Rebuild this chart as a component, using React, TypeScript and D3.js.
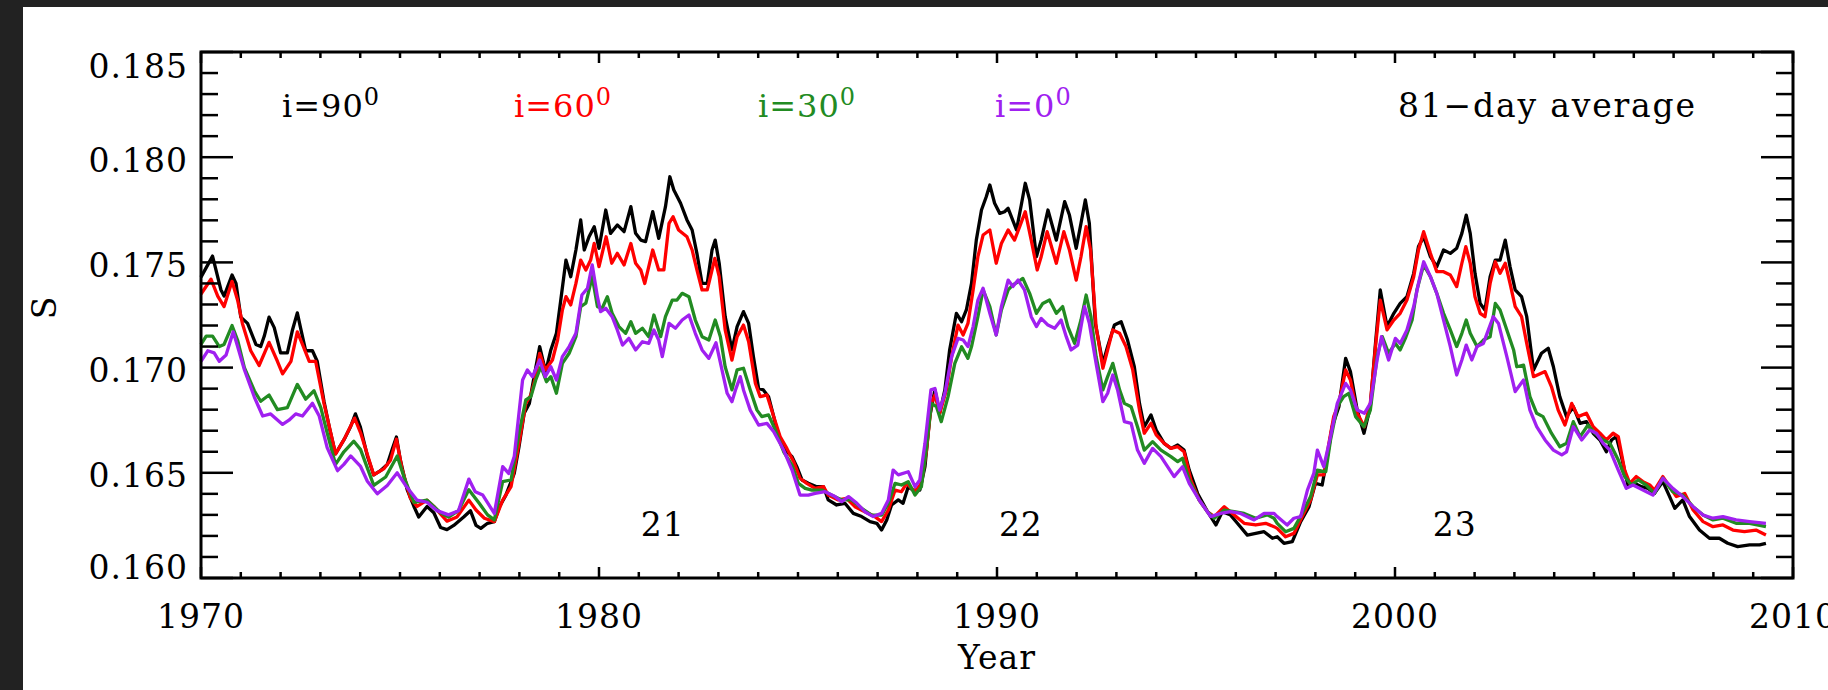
import React from 'react';
import * as d3 from 'd3';

// S-index, 81-day average as [year, S]
const incl90: [number, number][] = [
  [1970.0, 0.1743], [1970.29, 0.1753], [1970.5, 0.1737], [1970.58, 0.1734], [1970.78, 0.1744], [1970.88, 0.174],
  [1971.0, 0.1724], [1971.17, 0.1721], [1971.38, 0.1711], [1971.5, 0.171], [1971.59, 0.1715], [1971.71, 0.1724],
  [1971.84, 0.1719], [1972.0, 0.1707], [1972.17, 0.1707], [1972.3, 0.1718], [1972.42, 0.1726], [1972.5, 0.1719],
  [1972.63, 0.1708], [1972.8, 0.1708], [1972.92, 0.1703], [1973.09, 0.1684], [1973.22, 0.1672], [1973.38, 0.1659],
  [1973.6, 0.1666], [1973.76, 0.1672], [1973.88, 0.1678], [1974.0, 0.1672], [1974.18, 0.1658], [1974.34, 0.1649],
  [1974.51, 0.1651], [1974.68, 0.1654], [1974.8, 0.1661], [1974.91, 0.1667], [1975.01, 0.1656], [1975.18, 0.1642],
  [1975.35, 0.1634], [1975.47, 0.1629], [1975.68, 0.1634], [1975.85, 0.1631], [1976.02, 0.1624], [1976.18, 0.1623],
  [1976.35, 0.1625], [1976.6, 0.1629], [1976.77, 0.1632], [1976.91, 0.1625], [1977.03, 0.16236], [1977.2, 0.1626],
  [1977.37, 0.16268], [1977.5, 0.16339], [1977.66, 0.16394], [1977.87, 0.16497], [1977.99, 0.16624], [1978.12, 0.16783],
  [1978.25, 0.1683], [1978.37, 0.16957], [1978.51, 0.171], [1978.66, 0.1698], [1978.79, 0.17084], [1978.93, 0.17163],
  [1979.04, 0.17321], [1979.17, 0.17511], [1979.29, 0.17432], [1979.42, 0.17559], [1979.54, 0.17702], [1979.63, 0.17559],
  [1979.75, 0.17622], [1979.88, 0.1767], [1980.0, 0.17567], [1980.17, 0.17749], [1980.29, 0.17638], [1980.46, 0.17678],
  [1980.63, 0.17646], [1980.8, 0.17765], [1980.92, 0.17638], [1981.05, 0.17606], [1981.17, 0.17599], [1981.35, 0.17741],
  [1981.5, 0.17614], [1981.67, 0.17765], [1981.78, 0.17907], [1981.88, 0.17844], [1982.05, 0.17781], [1982.21, 0.17702],
  [1982.34, 0.17654], [1982.46, 0.17543], [1982.59, 0.174], [1982.72, 0.174], [1982.84, 0.17559], [1982.92, 0.17606],
  [1983.02, 0.17496], [1983.17, 0.17242], [1983.34, 0.17084], [1983.47, 0.17195], [1983.63, 0.17266], [1983.76, 0.1721],
  [1983.88, 0.17052], [1984.01, 0.16901], [1984.13, 0.16894], [1984.26, 0.16862], [1984.39, 0.16767], [1984.51, 0.16672],
  [1984.68, 0.16608], [1984.85, 0.16577], [1984.97, 0.16529], [1985.1, 0.16466], [1985.26, 0.1645], [1985.47, 0.16434],
  [1985.64, 0.16434], [1985.76, 0.16371], [1985.97, 0.16347], [1986.18, 0.16355], [1986.39, 0.16307], [1986.6, 0.16292],
  [1986.81, 0.16268], [1986.98, 0.1626], [1987.1, 0.16228], [1987.23, 0.16276], [1987.35, 0.16347], [1987.52, 0.16371],
  [1987.64, 0.16355], [1987.77, 0.16434], [1987.89, 0.16418], [1988.06, 0.16418], [1988.19, 0.16529], [1988.31, 0.16767],
  [1988.44, 0.16894], [1988.56, 0.16783], [1988.69, 0.16894], [1988.81, 0.17084], [1988.98, 0.17258], [1989.11, 0.17218],
  [1989.23, 0.17274], [1989.36, 0.174], [1989.48, 0.17606], [1989.61, 0.17749], [1989.73, 0.17812], [1989.82, 0.17868],
  [1989.94, 0.17781], [1990.07, 0.17733], [1990.19, 0.17741], [1990.28, 0.17757], [1990.49, 0.17654], [1990.61, 0.17773],
  [1990.71, 0.17876], [1990.82, 0.17797], [1990.99, 0.17527], [1991.11, 0.17606], [1991.28, 0.17749], [1991.49, 0.17606],
  [1991.7, 0.17789], [1991.82, 0.17725], [1991.99, 0.17567], [1992.11, 0.17686], [1992.22, 0.17797], [1992.32, 0.17686],
  [1992.47, 0.1721], [1992.66, 0.1702], [1992.78, 0.171], [1992.95, 0.17202], [1993.12, 0.17218], [1993.28, 0.17131],
  [1993.45, 0.17004], [1993.58, 0.1683], [1993.7, 0.16719], [1993.87, 0.16775], [1994.0, 0.16703], [1994.2, 0.1664],
  [1994.37, 0.16616], [1994.54, 0.16632], [1994.7, 0.16608], [1994.83, 0.16513], [1995.04, 0.16402], [1995.29, 0.16315],
  [1995.5, 0.16252], [1995.66, 0.16315], [1995.87, 0.16299], [1996.04, 0.1626], [1996.29, 0.16204], [1996.5, 0.16212],
  [1996.71, 0.1622], [1996.92, 0.16189], [1997.04, 0.16196], [1997.21, 0.16165], [1997.42, 0.16173], [1997.63, 0.16268],
  [1997.84, 0.16339], [1998.0, 0.1645], [1998.17, 0.16442], [1998.3, 0.16577], [1998.42, 0.16719], [1998.59, 0.16814],
  [1998.76, 0.17044], [1998.88, 0.16981], [1999.05, 0.16798], [1999.22, 0.16688], [1999.38, 0.16814], [1999.51, 0.17115],
  [1999.63, 0.17369], [1999.8, 0.17195], [1999.97, 0.17258], [2000.13, 0.17305], [2000.3, 0.17337], [2000.47, 0.17448],
  [2000.59, 0.17575], [2000.72, 0.17622], [2000.89, 0.17527], [2001.05, 0.1748], [2001.22, 0.17559], [2001.39, 0.17543],
  [2001.55, 0.17567], [2001.68, 0.17638], [2001.79, 0.17725], [2001.89, 0.17638], [2002.01, 0.17448], [2002.14, 0.17305],
  [2002.26, 0.17274], [2002.39, 0.17432], [2002.52, 0.17511], [2002.64, 0.17511], [2002.77, 0.17606], [2002.89, 0.1748],
  [2003.02, 0.17369], [2003.18, 0.17337], [2003.31, 0.17242], [2003.48, 0.16989], [2003.68, 0.17068], [2003.85, 0.17092],
  [2003.98, 0.17004], [2004.14, 0.16862], [2004.31, 0.16767], [2004.48, 0.16814], [2004.65, 0.16735], [2004.81, 0.16743],
  [2004.98, 0.16688], [2005.15, 0.16656], [2005.31, 0.166], [2005.44, 0.16656], [2005.56, 0.16672], [2005.69, 0.16577],
  [2005.86, 0.16434], [2006.02, 0.1645], [2006.19, 0.16434], [2006.36, 0.16426], [2006.52, 0.16402], [2006.73, 0.16458],
  [2006.9, 0.16387], [2007.03, 0.16331], [2007.23, 0.16371], [2007.4, 0.16292], [2007.65, 0.16228], [2007.9, 0.16189],
  [2008.15, 0.16189], [2008.36, 0.16165], [2008.61, 0.16149], [2008.91, 0.16157], [2009.16, 0.16157], [2009.32, 0.16165],
];

const incl60: [number, number][] = [
  [1970.0, 0.1735], [1970.25, 0.1742], [1970.42, 0.1734], [1970.58, 0.1729], [1970.78, 0.1741], [1970.92, 0.1732],
  [1971.04, 0.1721], [1971.25, 0.1708], [1971.46, 0.1701], [1971.71, 0.1712], [1971.92, 0.1703], [1972.05, 0.1697],
  [1972.26, 0.1703], [1972.42, 0.1717], [1972.55, 0.1711], [1972.72, 0.1703], [1972.88, 0.1703], [1973.09, 0.1683],
  [1973.38, 0.1659], [1973.6, 0.1666], [1973.86, 0.1676], [1974.01, 0.1669], [1974.34, 0.1649], [1974.6, 0.1652],
  [1974.76, 0.1656], [1974.91, 0.1666], [1975.05, 0.1652], [1975.26, 0.1638], [1975.43, 0.1634], [1975.68, 0.1637],
  [1975.85, 0.1634], [1976.18, 0.1627], [1976.43, 0.1629], [1976.73, 0.1637], [1976.91, 0.16323], [1977.12, 0.16284],
  [1977.37, 0.16268], [1977.58, 0.1637], [1977.79, 0.16434], [1977.99, 0.1664], [1978.16, 0.1683], [1978.29, 0.1687],
  [1978.41, 0.16957], [1978.51, 0.17068], [1978.65, 0.16989], [1978.83, 0.17036], [1978.96, 0.17131], [1979.08, 0.17274],
  [1979.17, 0.17337], [1979.29, 0.17298], [1979.42, 0.174], [1979.54, 0.17511], [1979.67, 0.17464], [1979.79, 0.17511],
  [1979.88, 0.1759], [1980.0, 0.1748], [1980.18, 0.17622], [1980.32, 0.17496], [1980.46, 0.17543], [1980.63, 0.17488],
  [1980.8, 0.1759], [1980.92, 0.17496], [1981.05, 0.17464], [1981.15, 0.174], [1981.35, 0.17559], [1981.5, 0.17464],
  [1981.63, 0.17464], [1981.76, 0.17686], [1981.86, 0.17717], [1982.0, 0.17654], [1982.21, 0.17622], [1982.34, 0.17559],
  [1982.46, 0.17464], [1982.59, 0.17369], [1982.72, 0.17369], [1982.91, 0.17519], [1983.02, 0.17432], [1983.17, 0.17179],
  [1983.34, 0.17036], [1983.47, 0.17147], [1983.63, 0.17202], [1983.76, 0.17123], [1983.93, 0.16925], [1984.05, 0.16862],
  [1984.22, 0.1687], [1984.39, 0.16767], [1984.55, 0.16672], [1984.72, 0.16616], [1984.89, 0.16553], [1985.05, 0.16474],
  [1985.22, 0.1645], [1985.43, 0.16426], [1985.64, 0.16434], [1985.76, 0.16394], [1986.01, 0.16371], [1986.22, 0.16379],
  [1986.43, 0.16339], [1986.68, 0.16315], [1986.93, 0.16292], [1987.1, 0.16268], [1987.27, 0.16323], [1987.44, 0.16418],
  [1987.6, 0.1641], [1987.73, 0.1645], [1987.94, 0.1641], [1988.1, 0.1645], [1988.23, 0.16608], [1988.35, 0.1683],
  [1988.44, 0.1687], [1988.56, 0.16783], [1988.73, 0.16894], [1988.86, 0.17052], [1989.02, 0.17202], [1989.15, 0.17155],
  [1989.27, 0.1721], [1989.4, 0.17369], [1989.52, 0.17527], [1989.65, 0.1763], [1989.82, 0.17654], [1989.98, 0.17496],
  [1990.11, 0.1759], [1990.28, 0.17654], [1990.44, 0.17606], [1990.57, 0.1767], [1990.71, 0.17741], [1990.86, 0.17606],
  [1991.01, 0.17464], [1991.11, 0.17527], [1991.26, 0.17646], [1991.49, 0.17496], [1991.68, 0.17646], [1991.82, 0.17559],
  [1991.99, 0.17416], [1992.11, 0.17527], [1992.24, 0.1767], [1992.35, 0.17559], [1992.49, 0.17195], [1992.66, 0.16997],
  [1992.78, 0.17084], [1992.91, 0.17179], [1993.08, 0.17163], [1993.24, 0.171], [1993.41, 0.16989], [1993.58, 0.16798],
  [1993.7, 0.16688], [1993.87, 0.16735], [1994.0, 0.1668], [1994.2, 0.1664], [1994.37, 0.16616], [1994.54, 0.16624],
  [1994.7, 0.166], [1994.87, 0.16466], [1995.08, 0.16371], [1995.29, 0.16315], [1995.46, 0.16292], [1995.71, 0.16339],
  [1995.96, 0.16299], [1996.21, 0.1626], [1996.5, 0.16252], [1996.75, 0.1626], [1996.96, 0.16244], [1997.04, 0.16236],
  [1997.25, 0.16196], [1997.46, 0.16212], [1997.67, 0.16292], [1997.88, 0.16371], [1998.05, 0.1649], [1998.21, 0.1649],
  [1998.34, 0.1664], [1998.46, 0.16767], [1998.59, 0.1683], [1998.76, 0.16989], [1998.88, 0.16941], [1999.05, 0.16783],
  [1999.23, 0.16719], [1999.38, 0.1683], [1999.51, 0.17099], [1999.63, 0.17321], [1999.8, 0.17179], [1999.97, 0.17226],
  [2000.13, 0.17258], [2000.3, 0.17321], [2000.47, 0.17432], [2000.59, 0.17559], [2000.72, 0.17646], [2000.89, 0.17543],
  [2001.05, 0.17456], [2001.22, 0.17456], [2001.39, 0.1744], [2001.55, 0.17385], [2001.68, 0.17496], [2001.78, 0.17575],
  [2001.89, 0.17496], [2002.01, 0.17337], [2002.14, 0.17258], [2002.26, 0.17242], [2002.39, 0.174], [2002.52, 0.17503],
  [2002.64, 0.17448], [2002.77, 0.17496], [2002.89, 0.174], [2003.02, 0.1729], [2003.18, 0.17242], [2003.31, 0.17115],
  [2003.48, 0.16957], [2003.77, 0.16981], [2003.93, 0.1691], [2004.1, 0.16798], [2004.27, 0.16727], [2004.44, 0.1683],
  [2004.6, 0.16767], [2004.81, 0.16783], [2004.98, 0.16719], [2005.15, 0.16688], [2005.31, 0.16656], [2005.48, 0.16688],
  [2005.61, 0.16672], [2005.77, 0.16513], [2005.9, 0.1645], [2006.06, 0.16482], [2006.23, 0.16458], [2006.4, 0.16442],
  [2006.52, 0.16418], [2006.73, 0.16482], [2006.9, 0.16434], [2007.07, 0.16387], [2007.28, 0.16402], [2007.49, 0.16323],
  [2007.74, 0.16268], [2007.99, 0.16244], [2008.24, 0.16252], [2008.49, 0.16228], [2008.78, 0.1622], [2009.07, 0.16228],
  [2009.32, 0.16204],
];

const incl30: [number, number][] = [
  [1970.0, 0.1711], [1970.13, 0.1715], [1970.29, 0.1715], [1970.46, 0.171], [1970.58, 0.1711], [1970.78, 0.172],
  [1970.92, 0.1713], [1971.09, 0.17], [1971.34, 0.1689], [1971.5, 0.1684], [1971.71, 0.1687], [1971.92, 0.168],
  [1972.17, 0.1681], [1972.42, 0.1692], [1972.63, 0.1685], [1972.84, 0.1689], [1973.01, 0.1681], [1973.17, 0.1669],
  [1973.38, 0.1654], [1973.59, 0.166], [1973.84, 0.1665], [1974.01, 0.1661], [1974.34, 0.1644], [1974.64, 0.1648],
  [1974.93, 0.1658], [1975.1, 0.1648], [1975.35, 0.1636], [1975.68, 0.1637], [1976.02, 0.1631], [1976.22, 0.1629],
  [1976.47, 0.1632], [1976.73, 0.1642], [1976.99, 0.16355], [1977.2, 0.163], [1977.37, 0.16276], [1977.58, 0.16458],
  [1977.79, 0.16466], [1977.99, 0.16688], [1978.16, 0.16846], [1978.29, 0.16862], [1978.41, 0.16941], [1978.54, 0.17004],
  [1978.68, 0.16933], [1978.79, 0.16957], [1978.93, 0.16878], [1979.08, 0.1702], [1979.25, 0.17068], [1979.42, 0.17147],
  [1979.54, 0.1729], [1979.67, 0.17306], [1979.83, 0.17432], [1979.96, 0.1729], [1980.08, 0.17282], [1980.21, 0.17337],
  [1980.33, 0.17258], [1980.5, 0.17195], [1980.67, 0.17163], [1980.8, 0.17218], [1980.92, 0.17163], [1981.09, 0.17187],
  [1981.25, 0.17147], [1981.38, 0.1725], [1981.55, 0.17147], [1981.67, 0.17242], [1981.84, 0.17321], [1981.96, 0.17321],
  [1982.09, 0.17353], [1982.26, 0.17337], [1982.42, 0.17226], [1982.59, 0.17147], [1982.76, 0.17131], [1982.92, 0.17226],
  [1983.05, 0.17147], [1983.17, 0.17004], [1983.34, 0.16894], [1983.47, 0.16989], [1983.63, 0.16997], [1983.8, 0.16894],
  [1983.97, 0.16798], [1984.09, 0.16767], [1984.26, 0.16775], [1984.43, 0.16703], [1984.64, 0.166], [1984.85, 0.16537],
  [1985.01, 0.1645], [1985.18, 0.16426], [1985.35, 0.16418], [1985.6, 0.16418], [1985.85, 0.16394], [1986.1, 0.16371],
  [1986.35, 0.16371], [1986.6, 0.16331], [1986.85, 0.16299], [1987.1, 0.16299], [1987.27, 0.16355], [1987.44, 0.1645],
  [1987.6, 0.16442], [1987.77, 0.16458], [1987.94, 0.16394], [1988.1, 0.16434], [1988.23, 0.16624], [1988.35, 0.1683],
  [1988.48, 0.16814], [1988.6, 0.16743], [1988.77, 0.16862], [1988.94, 0.1702], [1989.11, 0.17099], [1989.27, 0.17044],
  [1989.36, 0.171], [1989.52, 0.17242], [1989.65, 0.17369], [1989.82, 0.1729], [1989.98, 0.17155], [1990.11, 0.17274],
  [1990.28, 0.17369], [1990.4, 0.17393], [1990.53, 0.17408], [1990.65, 0.17424], [1990.82, 0.17353], [1990.99, 0.17258],
  [1991.15, 0.17305], [1991.32, 0.17321], [1991.49, 0.17258], [1991.65, 0.1729], [1991.78, 0.17195], [1991.95, 0.17115],
  [1992.11, 0.17226], [1992.24, 0.17345], [1992.36, 0.17242], [1992.49, 0.17052], [1992.66, 0.16894], [1992.78, 0.16957],
  [1992.91, 0.1702], [1993.08, 0.16894], [1993.2, 0.1683], [1993.37, 0.16814], [1993.53, 0.16719], [1993.7, 0.16608],
  [1993.91, 0.16648], [1994.12, 0.16608], [1994.37, 0.16577], [1994.54, 0.16553], [1994.66, 0.16569], [1994.83, 0.16466],
  [1995.08, 0.16371], [1995.29, 0.16315], [1995.46, 0.16284], [1995.71, 0.16323], [1995.96, 0.16315], [1996.21, 0.16307],
  [1996.5, 0.16284], [1996.79, 0.163], [1996.96, 0.16284], [1997.04, 0.1626], [1997.25, 0.1622], [1997.46, 0.16236],
  [1997.67, 0.16307], [1997.88, 0.16387], [1998.05, 0.16513], [1998.26, 0.16505], [1998.38, 0.16656], [1998.55, 0.16814],
  [1998.71, 0.16862], [1998.84, 0.16878], [1999.01, 0.16767], [1999.22, 0.16719], [1999.38, 0.16798], [1999.55, 0.17052],
  [1999.68, 0.17147], [1999.84, 0.17068], [2000.01, 0.17115], [2000.13, 0.17084], [2000.26, 0.17139], [2000.43, 0.17226],
  [2000.55, 0.17369], [2000.72, 0.17488], [2000.89, 0.17432], [2001.05, 0.17353], [2001.22, 0.17258], [2001.39, 0.17179],
  [2001.55, 0.171], [2001.68, 0.17163], [2001.79, 0.17226], [2001.89, 0.17163], [2002.06, 0.171], [2002.22, 0.17131],
  [2002.39, 0.17147], [2002.52, 0.17305], [2002.64, 0.17274], [2002.81, 0.17179], [2002.98, 0.17084], [2003.06, 0.17004],
  [2003.23, 0.17012], [2003.39, 0.16862], [2003.56, 0.16783], [2003.72, 0.16767], [2003.93, 0.16688], [2004.14, 0.16624],
  [2004.31, 0.1664], [2004.48, 0.16743], [2004.65, 0.16672], [2004.85, 0.16727], [2005.02, 0.16688], [2005.23, 0.16656],
  [2005.4, 0.1664], [2005.61, 0.16561], [2005.77, 0.16482], [2005.94, 0.16442], [2006.11, 0.16466], [2006.31, 0.16442],
  [2006.52, 0.16402], [2006.73, 0.16474], [2006.98, 0.1641], [2007.23, 0.16394], [2007.49, 0.16339], [2007.74, 0.16299],
  [2007.99, 0.16276], [2008.24, 0.16284], [2008.57, 0.1626], [2008.91, 0.1626], [2009.32, 0.16244],
];

const incl0: [number, number][] = [
  [1970.0, 0.1703], [1970.17, 0.1708], [1970.33, 0.1707], [1970.46, 0.1703], [1970.63, 0.1706], [1970.81, 0.1717],
  [1970.92, 0.171], [1971.09, 0.1699], [1971.34, 0.1686], [1971.55, 0.1677], [1971.75, 0.1678], [1972.05, 0.1673],
  [1972.21, 0.1675], [1972.38, 0.1678], [1972.55, 0.1677], [1972.8, 0.1683], [1972.97, 0.1677], [1973.17, 0.1662],
  [1973.43, 0.1651], [1973.59, 0.1654], [1973.76, 0.1658], [1974.01, 0.1653], [1974.18, 0.1646], [1974.43, 0.164],
  [1974.68, 0.1644], [1974.93, 0.165], [1975.14, 0.1644], [1975.43, 0.1637], [1975.68, 0.1636], [1975.93, 0.1632],
  [1976.22, 0.163], [1976.47, 0.1632], [1976.73, 0.1647], [1976.89, 0.1641], [1977.08, 0.16394], [1977.37, 0.16307],
  [1977.58, 0.16529], [1977.73, 0.16497], [1977.87, 0.16577], [1978.08, 0.16941], [1978.2, 0.16989], [1978.33, 0.16957],
  [1978.51, 0.17036], [1978.65, 0.16957], [1978.79, 0.17004], [1978.93, 0.16941], [1979.08, 0.17052], [1979.25, 0.171],
  [1979.42, 0.17163], [1979.57, 0.17345], [1979.71, 0.17377], [1979.83, 0.17488], [1979.96, 0.17337], [1980.04, 0.17266],
  [1980.17, 0.17282], [1980.33, 0.17242], [1980.46, 0.17179], [1980.59, 0.17107], [1980.75, 0.17139], [1980.92, 0.17084],
  [1981.09, 0.17123], [1981.25, 0.17115], [1981.38, 0.17179], [1981.5, 0.17131], [1981.59, 0.17052], [1981.76, 0.1721],
  [1981.92, 0.17187], [1982.09, 0.17226], [1982.26, 0.1725], [1982.42, 0.17163], [1982.59, 0.17084], [1982.76, 0.17044],
  [1982.94, 0.17118], [1983.09, 0.16989], [1983.22, 0.16878], [1983.34, 0.16838], [1983.43, 0.16894], [1983.55, 0.16957],
  [1983.63, 0.16894], [1983.8, 0.16798], [1984.01, 0.16727], [1984.22, 0.16735], [1984.39, 0.16695], [1984.64, 0.16608],
  [1984.85, 0.16513], [1985.05, 0.16394], [1985.26, 0.16394], [1985.43, 0.16402], [1985.68, 0.1641], [1985.93, 0.16387],
  [1986.1, 0.16363], [1986.27, 0.16387], [1986.48, 0.16355], [1986.68, 0.16315], [1986.89, 0.16292], [1987.1, 0.16307],
  [1987.27, 0.16371], [1987.39, 0.16513], [1987.52, 0.1649], [1987.77, 0.16505], [1987.94, 0.16434], [1988.06, 0.16466],
  [1988.19, 0.1664], [1988.34, 0.16894], [1988.44, 0.16901], [1988.56, 0.16798], [1988.69, 0.16878], [1988.86, 0.17052],
  [1989.02, 0.17139], [1989.15, 0.17131], [1989.27, 0.171], [1989.4, 0.17195], [1989.52, 0.17321], [1989.65, 0.17377],
  [1989.82, 0.17258], [1989.98, 0.17155], [1990.11, 0.1729], [1990.28, 0.17416], [1990.4, 0.17385], [1990.53, 0.17416],
  [1990.69, 0.17369], [1990.86, 0.17242], [1990.99, 0.17195], [1991.11, 0.17234], [1991.28, 0.17202], [1991.45, 0.17187],
  [1991.61, 0.17226], [1991.74, 0.17147], [1991.86, 0.17084], [1992.03, 0.17107], [1992.2, 0.1729], [1992.32, 0.1721],
  [1992.49, 0.1702], [1992.66, 0.16838], [1992.78, 0.16878], [1992.91, 0.16965], [1993.03, 0.16894], [1993.2, 0.16743],
  [1993.37, 0.16735], [1993.53, 0.16608], [1993.7, 0.16545], [1993.91, 0.16616], [1994.12, 0.16577], [1994.45, 0.16482],
  [1994.66, 0.16529], [1994.83, 0.1645], [1995.08, 0.16371], [1995.37, 0.16292], [1995.62, 0.16307], [1995.87, 0.16315],
  [1996.12, 0.16307], [1996.46, 0.16276], [1996.71, 0.16307], [1996.96, 0.16307], [1997.04, 0.16292], [1997.29, 0.16252],
  [1997.46, 0.16284], [1997.63, 0.16292], [1997.8, 0.16418], [1997.96, 0.16497], [1998.05, 0.16608], [1998.21, 0.16529],
  [1998.38, 0.16672], [1998.55, 0.1683], [1998.76, 0.16925], [1998.88, 0.16894], [1999.05, 0.16798], [1999.23, 0.16783],
  [1999.38, 0.1683], [1999.55, 0.17036], [1999.66, 0.17147], [1999.84, 0.17036], [2000.01, 0.17139], [2000.13, 0.17115],
  [2000.3, 0.17179], [2000.47, 0.1729], [2000.59, 0.174], [2000.72, 0.17503], [2000.89, 0.17432], [2001.05, 0.17353],
  [2001.22, 0.17226], [2001.39, 0.171], [2001.55, 0.16965], [2001.68, 0.17036], [2001.79, 0.17107], [2001.93, 0.17036],
  [2002.06, 0.171], [2002.22, 0.17115], [2002.47, 0.17242], [2002.6, 0.1721], [2002.81, 0.17052], [2003.02, 0.16886],
  [2003.23, 0.16941], [2003.39, 0.16798], [2003.56, 0.16719], [2003.77, 0.16656], [2003.98, 0.16608], [2004.19, 0.16585],
  [2004.31, 0.166], [2004.48, 0.16719], [2004.69, 0.16656], [2004.89, 0.16703], [2005.06, 0.16688], [2005.23, 0.1664],
  [2005.4, 0.16608], [2005.61, 0.16513], [2005.81, 0.16426], [2005.98, 0.16442], [2006.23, 0.16418], [2006.48, 0.16394],
  [2006.73, 0.16474], [2006.98, 0.16426], [2007.23, 0.16387], [2007.49, 0.16339], [2007.74, 0.16299], [2007.99, 0.16284],
  [2008.24, 0.16292], [2008.57, 0.16276], [2008.91, 0.16268], [2009.32, 0.1626],
];

const series = [
  { name: 'i=90', data: incl90, color: '#000000' },
  { name: 'i=60', data: incl60, color: '#ff0000' },
  { name: 'i=30', data: incl30, color: '#228b22' },
  { name: 'i=0', data: incl0, color: '#a020f0' },
];

const xTicksMajor = [1970, 1980, 1990, 2000, 2010];
const yTicksMajor = [0.160, 0.165, 0.170, 0.175, 0.180, 0.185];
const cycles = [{ label: '21', year: 1981.6 }, { label: '22', year: 1990.6 }, { label: '23', year: 2001.5 }];
const legendX = [282, 514, 758, 995]; // left edge of each legend entry

const W = 1828, H = 690;
const left = 201, right = 1793, top = 52, bottom = 578;
const FONT = '"DejaVu Serif", serif';

const App = () => {
  const x = d3.scaleLinear().domain([1970, 2010]).range([left, right]);
  const y = d3.scaleLinear().domain([0.160, 0.185]).range([bottom, top]);
  const path = d3.line<[number, number]>().x(d => x(d[0])).y(d => y(d[1]));

  const xMinor = d3.range(1970, 2011);
  const yMinor = d3.range(160, 186).map(v => v / 1000);
  const fmt = d3.format('.3f');

  // IDL keeps the end labels inside the box
  const labelY = (v: number) => Math.min(Math.max(y(v) + 3, top + 14), bottom - 11);

  return (
    <svg width={W} height={H} style={{ position: 'absolute', left: 0, top: 0 }} fontFamily={FONT}>
      <rect width={W} height={H} fill="#222222" />
      <rect x={23} y={7} width={W - 23} height={H - 7} fill="#ffffff" />

      {series.map(s => (
        <path key={s.name} d={path(s.data) || ''} fill="none" stroke={s.color} strokeWidth={3.3} strokeLinejoin="round" />
      ))}

      {/* frame */}
      <rect x={left} y={top} width={right - left} height={bottom - top} fill="none" stroke="#000" strokeWidth={3} />

      {/* x ticks, bottom and top */}
      {xMinor.map(t => {
        const len = t % 10 === 0 ? 11 : 6;
        return (
          <g key={'x' + t} stroke="#000" strokeWidth={2.5}>
            <line x1={x(t)} x2={x(t)} y1={bottom} y2={bottom - len} />
            <line x1={x(t)} x2={x(t)} y1={top} y2={top + len} />
          </g>
        );
      })}
      {/* y ticks, left and right */}
      {yMinor.map((t, i) => {
        const len = i % 5 === 0 ? 32 : 17;
        return (
          <g key={'y' + i} stroke="#000" strokeWidth={2.5}>
            <line x1={left} x2={left + len} y1={y(t)} y2={y(t)} />
            <line x1={right} x2={right - len} y1={y(t)} y2={y(t)} />
          </g>
        );
      })}

      {xTicksMajor.map(t => (
        <text key={'xl' + t} x={x(t)} y={628} textAnchor="middle" fontSize={33} letterSpacing={1}>{t}</text>
      ))}
      {yTicksMajor.map(t => (
        <text key={'yl' + t} x={188} y={labelY(t)} textAnchor="end" dominantBaseline="central" fontSize={33} letterSpacing={1}>
          {fmt(t)}
        </text>
      ))}

      <text x={(left + right) / 2} y={669} textAnchor="middle" fontSize={33} letterSpacing={1}>Year</text>
      <text transform={`translate(56, ${(top + bottom) / 2 - 7}) rotate(-90)`} textAnchor="middle" fontSize={33}>S</text>

      {series.map((s, i) => (
        <text key={'lg' + s.name} x={legendX[i]} y={117} fill={s.color} fontSize={32} letterSpacing={1}>
          {s.name}
          <tspan fontSize={24} dy={-12}>0</tspan>
        </text>
      ))}
      <text x={1398} y={117} fontSize={33} textLength={297} lengthAdjust="spacing">81−day average</text>

      {cycles.map(c => (
        <text key={c.label} x={x(c.year)} y={536} textAnchor="middle" fontSize={33} letterSpacing={1}>{c.label}</text>
      ))}
    </svg>
  );
};

export default App;
